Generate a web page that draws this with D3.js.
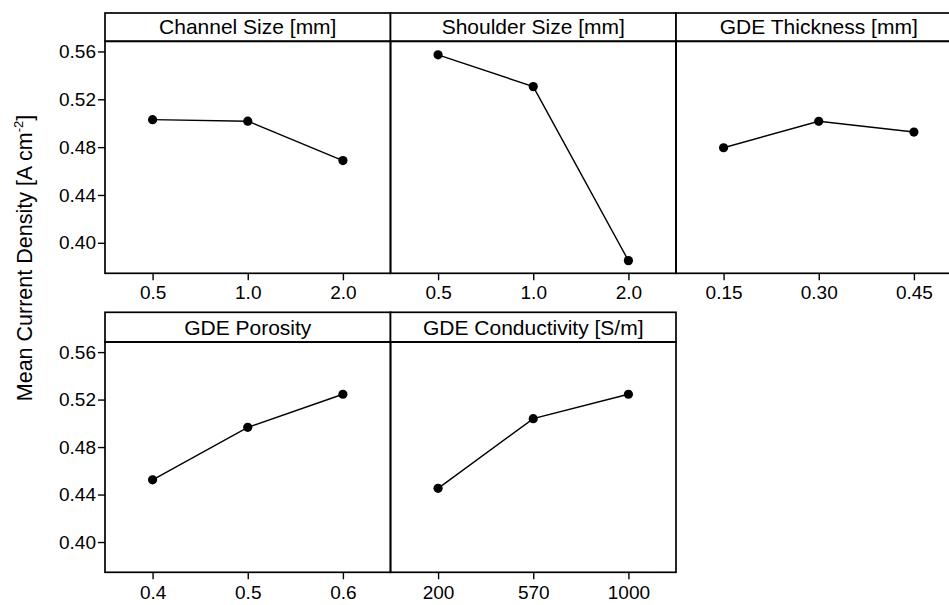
<!DOCTYPE html>
<html>
<head>
<meta charset="utf-8">
<script src="https://cdn.jsdelivr.net/npm/d3@7"></script>
<style>
  html, body { margin: 0; padding: 0; background: #fff; }
  svg { display: block; }
  text { font-family: "Liberation Sans", Arial, Helvetica, sans-serif; fill: #000; }
</style>
</head>
<body>
<svg id="chart" width="949" height="605"></svg>
<script>
// ---- data ----
const panelTitles = ["Channel Size [mm]", "Shoulder Size [mm]", "GDE Thickness [mm]", "GDE Porosity", "GDE Conductivity [S/m]"];
const channelLevels = ["0.5", "1.0", "2.0"];
const channelValues = [0.503, 0.5017, 0.4688];
const shoulderLevels = ["0.5", "1.0", "2.0"];
const shoulderValues = [0.5572, 0.5306, 0.3851];
const thicknessLevels = ["0.15", "0.30", "0.45"];
const thicknessValues = [0.4795, 0.5016, 0.4926];
const porosityLevels = ["0.4", "0.5", "0.6"];
const porosityValues = [0.4524, 0.4966, 0.5245];
const conductivityLevels = ["200", "570", "1000"];
const conductivityValues = [0.4452, 0.5039, 0.5245];
const yTicks = [0.40, 0.44, 0.48, 0.52, 0.56];
const yDomain = [0.3745, 0.5685];

const panels = [
  { title: panelTitles[0], levels: channelLevels, values: channelValues, col: 0, row: 0 },
  { title: panelTitles[1], levels: shoulderLevels, values: shoulderValues, col: 1, row: 0 },
  { title: panelTitles[2], levels: thicknessLevels, values: thicknessValues, col: 2, row: 0 },
  { title: panelTitles[3], levels: porosityLevels, values: porosityValues, col: 0, row: 1 },
  { title: panelTitles[4], levels: conductivityLevels, values: conductivityValues, col: 1, row: 1 }
];

// ---- layout ----
const left = 105, panelW = 285.5;
const rows = [
  { stripTop: 13, plotTop: 41.3, plotBottom: 273.3, labelY: 299 },
  { stripTop: 312.3, plotTop: 342, plotBottom: 572.3, labelY: 599 }
];
const tickFont = 19, stripFont = 21;

const svg = d3.select("#chart");

panels.forEach(p => {
  const r = rows[p.row];
  const x0 = left + p.col * panelW;
  const x = d3.scalePoint().domain(p.levels).range([x0, x0 + panelW]).padding(0.5);
  const y = d3.scaleLinear().domain(yDomain).range([r.plotBottom, r.plotTop]);
  const g = svg.append("g");

  // strip
  g.append("rect").attr("x", x0).attr("y", r.stripTop).attr("width", panelW)
    .attr("height", r.plotTop - r.stripTop).attr("fill", "#fff")
    .attr("stroke", "#000").attr("stroke-width", 1.7);
  g.append("text").attr("x", x0 + panelW / 2).attr("y", r.plotTop - 7.5)
    .attr("text-anchor", "middle").attr("font-size", stripFont).text(p.title);

  // panel box
  g.append("rect").attr("x", x0).attr("y", r.plotTop).attr("width", panelW)
    .attr("height", r.plotBottom - r.plotTop).attr("fill", "none")
    .attr("stroke", "#000").attr("stroke-width", 1.7);

  // x axis
  const xa = g.append("g").attr("transform", `translate(0,${r.plotBottom})`)
    .call(d3.axisBottom(x).tickSize(7).tickPadding(3));
  xa.select(".domain").remove();
  xa.selectAll(".tick line").attr("stroke", "#000").attr("stroke-width", 1.4);
  xa.selectAll(".tick text").attr("font-size", tickFont).attr("font-family", null)
    .attr("dy", null).attr("y", r.labelY - r.plotBottom);

  // y axis on first column
  if (p.col === 0) {
    const ya = g.append("g").attr("transform", `translate(${x0},0)`)
      .call(d3.axisLeft(y).tickValues(yTicks).tickFormat(d3.format(".2f")).tickSize(7).tickPadding(2));
    ya.select(".domain").remove();
    ya.selectAll(".tick line").attr("stroke", "#000").attr("stroke-width", 1.4);
    ya.selectAll(".tick text").attr("font-size", tickFont).attr("font-family", null);
  }

  // line + points
  const pts = p.levels.map((l, i) => [x(l), y(p.values[i])]);
  g.append("path").attr("d", d3.line()(pts)).attr("fill", "none")
    .attr("stroke", "#000").attr("stroke-width", 1.4);
  g.selectAll("circle").data(pts).join("circle")
    .attr("cx", d => d[0]).attr("cy", d => d[1]).attr("r", 4.6).attr("fill", "#000");
});

// y axis label
const yl = svg.append("text")
  .attr("transform", "translate(32,258) rotate(-90)")
  .attr("text-anchor", "middle").attr("font-size", 21.5);
yl.append("tspan").text("Mean Current Density [A cm");
yl.append("tspan").attr("font-size", 13).attr("dy", -9).text("-2");
yl.append("tspan").attr("dy", 9).text("]");
</script>
</body>
</html>
